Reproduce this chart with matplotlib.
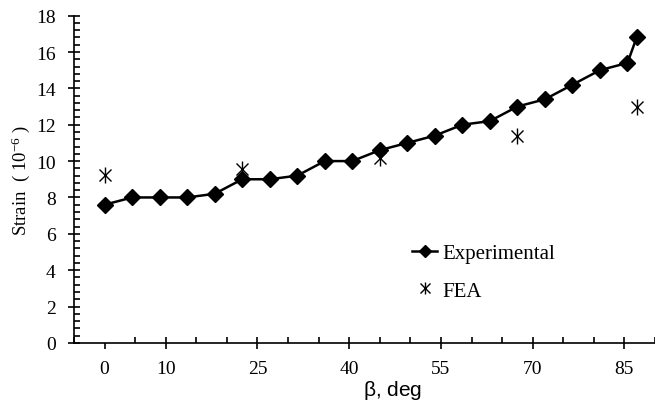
import numpy as np
import matplotlib.pyplot as plt
from matplotlib.ticker import MultipleLocator, FixedLocator

# Experimental readings (beta in deg, strain in 1e-6)
beta_exp = [0, 4.5, 9, 13.5, 18, 22.5, 27, 31.5, 36, 40.5, 45, 49.5, 54, 58.5,
            63, 67.5, 72, 76.5, 81, 85.5, 87]
strain_exp = [7.6, 8.0, 8.0, 8.0, 8.2, 9.0, 9.0, 9.2, 10.0, 10.0, 10.6, 11.0,
              11.4, 12.0, 12.2, 13.0, 13.4, 14.2, 15.0, 15.4, 16.8]

# FEA results
beta_fea = [0, 22.5, 45, 67.5, 87]
strain_fea = [9.25, 9.55, 10.15, 11.4, 12.95]

x_labels = [0, 10, 25, 40, 55, 70, 85]

plt.rcParams['font.family'] = 'Liberation Serif'
plt.rcParams['mathtext.fontset'] = 'custom'
plt.rcParams['mathtext.rm'] = 'Liberation Serif'

fig = plt.figure(figsize=(6.55, 4.06), dpi=100)
ax = fig.add_axes([0.113, 0.153, 0.887, 0.806])

ax.plot(beta_exp, strain_exp, color='black', lw=1.8, marker='D', ms=8,
        label='Experimental', clip_on=False)
h1, = ax.plot(beta_fea, strain_fea, ls='none', marker='x', ms=9, mew=1.0,
              color='black', clip_on=False)
h2, = ax.plot(beta_fea, strain_fea, ls='none', marker='|', ms=12, mew=1.0,
              color='black', clip_on=False)

ax.set_xlim(-5, 90)
ax.set_ylim(0, 18)

for s in ['top', 'right']:
    ax.spines[s].set_visible(False)
for s in ['left', 'bottom']:
    ax.spines[s].set_linewidth(1.2)

ax.yaxis.set_major_locator(MultipleLocator(2))
ax.yaxis.set_minor_locator(MultipleLocator(0.4))
ax.xaxis.set_major_locator(FixedLocator(x_labels))
ax.xaxis.set_minor_locator(MultipleLocator(5))
ax.tick_params(which='major', direction='inout', length=8.6, width=1.2,
               labelsize=14)
ax.tick_params(which='minor', direction='in', length=4, width=1.2)
ax.tick_params(axis='y', which='major', pad=9)
ax.tick_params(axis='x', which='major', pad=8)
# first label sits on a short tick in the original
ax.xaxis.get_major_ticks()[0].tick1line.set_markersize(4)
ax.xaxis.get_major_ticks()[0].tick1line.set_marker(3)

ax.set_ylabel(r'Strain  ( $\mathregular{10^{-6}}$ )', fontsize=13.5)
ax.yaxis.set_label_coords(-0.072, 0.5)
ax.set_xlabel(r'$\mathregular{\beta}$, deg', fontsize=15, family='Liberation Sans')
ax.xaxis.set_label_coords(0.548, -0.108)

ax.legend([ax.lines[0], (h1, h2)], ['Experimental', 'FEA'], frameon=False,
          fontsize=15, loc='upper left', bbox_to_anchor=(0.55, 0.36),
          handlelength=1.2, handletextpad=0.25, labelspacing=0.85,
          markerscale=0.75)

fig.savefig('out.png', dpi=100)
